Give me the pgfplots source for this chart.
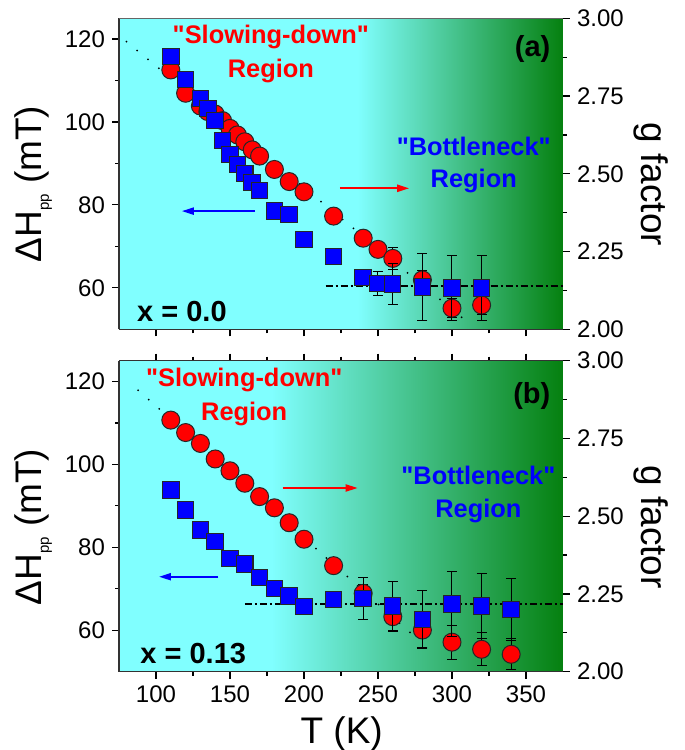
\documentclass[border=0pt]{standalone}
\usepackage{pgfplots}
\pgfplotsset{compat=1.18}
\usepackage{pgfplotstable}
\usepackage{fontspec}
\setmainfont{Liberation Sans}
\usetikzlibrary{arrows.meta}

\definecolor{bgcyan}{RGB}{128,255,255}
\definecolor{bggreen}{RGB}{5,128,15}

% (a) x = 0.0 : linewidth (left axis) and g factor (right axis)
\pgfplotstableread{
T   H     dH
110 115.8 0
120 110.2 0
130 105.7 0
135 103.3 0
140 100.3 0
145 95.5  0
150 92.2  0
155 89.8  0
160 87.5  0
165 85.4  0
170 83.5  0
180 78.5  0
190 77.7  0
200 71.7  0
220 67.5  0
240 62.5  1.0
250 61.1  2.9
260 60.9  4.9
280 60.2  8.0
300 60.0  7.9
320 60.0  7.9
}\hA
\pgfplotstableread{
T   g     dg
110 2.834 0.005
120 2.759 0.006
130 2.718 0.006
135 2.700 0.006
140 2.692 0.006
145 2.671 0.006
150 2.646 0.006
155 2.625 0.006
160 2.603 0.008
165 2.577 0.008
170 2.557 0.008
180 2.514 0.008
190 2.475 0.008
200 2.442 0.008
220 2.364 0.010
240 2.293 0.020
250 2.257 0.020
260 2.228 0.035
280 2.159 0.030
300 2.068 0.030
320 2.078 0.030
}\gA
% (b) x = 0.13
\pgfplotstableread{
T   H    dH
110 93.8 0
120 89.0 0
130 84.2 0
140 81.4 0
150 77.3 0
160 76.0 0
170 72.7 0
180 70.1 0
190 68.3 0
200 65.7 0
220 67.4 0
240 67.7 5.1
260 65.8 6.0
280 62.6 7.0
300 66.3 7.85
320 65.8 7.85
340 65.0 7.5
}\hB
\pgfplotstableread{
T   g     dg
110 2.809 0.006
120 2.769 0.006
130 2.734 0.006
140 2.684 0.006
150 2.646 0.006
160 2.606 0.006
170 2.563 0.006
180 2.527 0.006
190 2.479 0.006
200 2.426 0.008
220 2.341 0.010
240 2.252 0.030
260 2.177 0.046
280 2.134 0.055
300 2.095 0.055
320 2.072 0.053
340 2.056 0.050
}\gB

\pgfplotsset{
  panel/.style={
    scale only axis, width=222pt, height=155.5pt,
    anchor=north west, xmin=75, xmax=375,
    tick align=outside,
    major tick length=3.5pt, minor tick length=2pt,
    tick style={black, line width=0.6pt},
    axis line style={-, black!80, line width=0.6pt},
    tick label style={font=\fontsize{12}{14}\selectfont},
    /pgf/number format/assume math mode=true,
  },
  gaxis/.style={panel, axis x line=none, axis y line*=right,
    ymin=2, ymax=3, ytick={2,2.25,2.5,2.75,3}, minor y tick num=1,
    y axis line style={draw=none},
    y tick label style={/pgf/number format/fixed,
      /pgf/number format/fixed zerofill, /pgf/number format/precision=2},
  },
  haxis/.style={panel, axis y line*=left, ymin=50, ymax=125,
    ytick={60,80,100,120}, minor y tick num=1,
    xtick={100,150,...,350}, minor x tick num=1},
  ebars/.style={error bars/y dir=both, error bars/y explicit,
    error bars/error bar style={draw=black, line width=0.5pt},
    error bars/error mark options={rotate=90, mark size=2.5pt, draw=black, line width=0.5pt}},
  redpts/.style={only marks, mark=*, mark size=4.5pt,
    mark options={fill=red, draw=black!85, line width=0.5pt}, ebars},
  redbars/.style={draw=none, mark=none, forget plot, ebars},
  bluepts/.style={only marks, mark=square*, mark size=4.1pt,
    mark options={fill=blue, draw=black!85, line width=0.5pt}, ebars},
  fitline/.style={black, line width=1pt, line cap=round, dash pattern=on 0pt off 7pt},
  plateau/.style={black, line width=0.9pt, dash pattern=on 3.5pt off 1.5pt on 1pt off 1.5pt},
}
\tikzset{
  ann/.style={font=\fontsize{12.7}{17}\selectfont\bfseries, align=center},
  annb/.style={font=\fontsize{12.7}{16.3}\selectfont\bfseries, align=center},
  tag/.style={font=\fontsize{14.5}{16}\selectfont\bfseries, inner sep=0pt},
  arr/.style={line width=1pt, -{Triangle[length=6pt,width=3.5pt]}},
  biglab/.style={font=\fontsize{18.5}{20}\selectfont},
}

\newcommand\q{\textquotedbl}
\newcommand\hlabel{ΔH\raisebox{-3.5pt}{\fontsize{7.5}{8}\selectfont pp} (mT)}

\begin{document}
\begin{tikzpicture}
\useasboundingbox (-59.5pt,9.15pt) rectangle (283pt,-365.85pt);

% ---------- panel (a) ----------
\begin{axis}[gaxis, at={(0pt,0pt)}]
  \fill[bgcyan] (axis cs:75,2) rectangle (axis cs:237,3);
  \shade[left color=bgcyan, right color=bggreen] (axis cs:236,2) rectangle (axis cs:375,3);
  \addplot[redpts] table[x=T, y=g, y error=dg] {\gA};
  \addplot[redbars] table[x=T, y=g, y error=dg] {\gA};
  \addplot[fitline] coordinates {(80,2.925) (310,2.025)};
\end{axis}
\begin{axis}[haxis, at={(0pt,0pt)}, axis x line*=bottom, xticklabels={}]
  \addplot[bluepts] table[x=T, y=H, y error=dH] {\hA};
  \addplot[plateau] coordinates {(214.6,60.4) (375,60.4)};
  \draw[black!60, line width=0.4pt] (rel axis cs:0,1) -- (rel axis cs:1,1);
  \node[ann, text=red] at (axis cs:177.6,116.3) {\q Slowing-down\q\\Region};
  \node[annb, text=blue] at (axis cs:314.7,89.6) {\q Bottleneck\q\\Region};
  \node[tag, anchor=east] at (axis cs:366.7,117.7) {(a)};
  \node[tag, anchor=west] at (axis cs:87,54.4) {x = 0.0};
  \draw[arr, blue] (axis cs:167,78.5) -- (axis cs:117.4,78.5);
  \draw[arr, red] (axis cs:224.3,84.0) -- (axis cs:271.1,84.0);
\end{axis}

% ---------- panel (b) ----------
\begin{axis}[gaxis, at={(0pt,-171.2pt)}]
  \fill[bgcyan] (axis cs:75,2) rectangle (axis cs:179,3);
  \shade[left color=bgcyan, right color=bggreen] (axis cs:178,2) rectangle (axis cs:375,3);
  \addplot[redpts] table[x=T, y=g, y error=dg] {\gB};
  \addplot[redbars] table[x=T, y=g, y error=dg] {\gB};
  \addplot[fitline] coordinates {(88,2.905) (275,2.112)};
\end{axis}
\begin{axis}[haxis, at={(0pt,-171.2pt)}, axis x line*=box]
  \addplot[bluepts] table[x=T, y=H, y error=dH] {\hB};
  \addplot[plateau] coordinates {(160,66.3) (375,66.3)};
  \node[ann, text=red] at (axis cs:159.6,116.2) {\q Slowing-down\q\\Region};
  \node[annb, text=blue] at (axis cs:317.8,92.8) {\q Bottleneck\q\\Region};
  \node[tag, anchor=east] at (axis cs:366.7,116.6) {(b)};
  \node[tag, anchor=west] at (axis cs:89.2,54.4) {x = 0.13};
  \draw[arr, blue] (axis cs:142.1,72.9) -- (axis cs:102,72.9);
  \draw[arr, red] (axis cs:185.6,94.3) -- (axis cs:236.3,94.3);
\end{axis}

% ---------- outer labels ----------
\node[rotate=90, anchor=base, biglab] at (-38.5pt,-82.85pt) {\hlabel};
\node[rotate=90, anchor=base, biglab] at (-38.5pt,-254.35pt) {\hlabel};
\node[rotate=-90, anchor=base, biglab] at (261pt,-83.1pt) {g factor};
\node[rotate=-90, anchor=base, biglab] at (261pt,-254.45pt) {g factor};
\node[anchor=base, biglab] at (111.35pt,-362.5pt) {T (K)};
\end{tikzpicture}
\end{document}
